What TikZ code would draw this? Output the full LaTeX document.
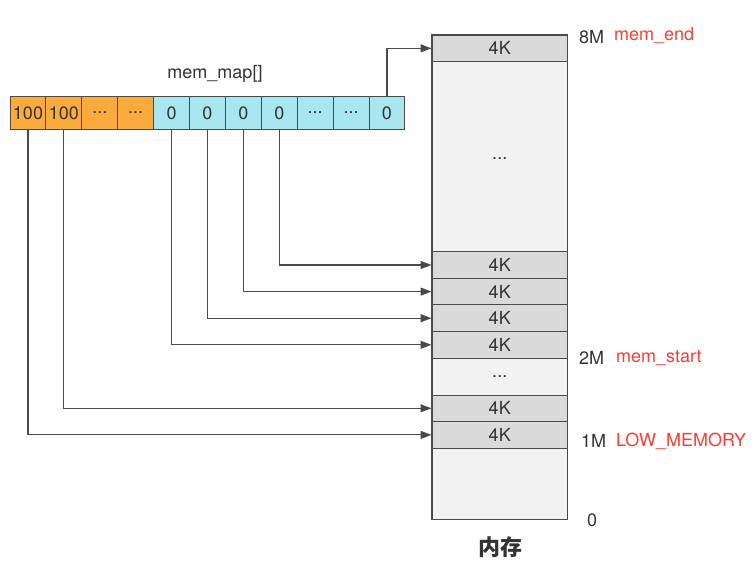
\documentclass[tikz,border=0pt]{standalone}
\usepackage{fontspec}
\setmainfont{TeX Gyre Heros}
\newfontfamily\cjk{Noto Sans CJK SC}
\usetikzlibrary{arrows.meta}
\definecolor{edge}{HTML}{4A4A4A}
\definecolor{txt}{HTML}{333333}
\definecolor{orng}{HTML}{FBAA3E}
\definecolor{cyn}{HTML}{A8E6F0}
\definecolor{cellg}{HTML}{DADADA}
\definecolor{colg}{HTML}{F2F2F2}
\definecolor{redt}{HTML}{FF3B30}
\tikzset{
  arrcell/.style={draw=edge, line width=1pt, minimum width=35.9pt, minimum height=32.5pt, inner sep=0pt, text=txt, font=\fontsize{18}{21}\selectfont},
  ocell/.style={arrcell, fill=orng},
  ccell/.style={arrcell, fill=cyn},
  memcell/.style={draw=edge, line width=1pt, fill=cellg, minimum width=135.5pt, minimum height=26.6pt, inner sep=0pt, text=txt, font=\fontsize{18}{21}\selectfont},
  lbl/.style={text=txt, inner sep=0pt, font=\fontsize{18}{21}\selectfont},
  rlbl/.style={text=redt, inner sep=0pt, font=\fontsize{18}{21}\selectfont},
  conn/.style={draw=edge, line width=1.1pt, -{Triangle[length=11pt,width=8pt]}}
}
\begin{document}
\begin{tikzpicture}[x=1pt,y=-1pt]
\useasboundingbox (0,0) rectangle (756,571);
% memory column
\draw[draw=edge, line width=1.2pt, fill=colg] (432,35) rectangle (567.5,519.3);
\node[memcell] (mtop) at (499.75,48.35) {4K};
\node[lbl] (dtop) at (499.75,159) {...};
\node[memcell] (m1) at (499.75,265.0) {4K};
\node[memcell] (m2) at (499.75,291.6) {4K};
\node[memcell] (m3) at (499.75,318.2) {4K};
\node[memcell] (m4) at (499.75,344.8) {4K};
\node[lbl] (dmid) at (499.75,377) {...};
\node[memcell] (m5) at (499.75,408.3) {4K};
\node[memcell] (m6) at (499.75,434.9) {4K};
% array
\node[ocell] (c1) at (28.0,113) {100};
\node[ocell] (c2) at (63.9,113) {100};
\node[ocell] (c3) at (99.8,113) {...};
\node[ocell] (c4) at (135.7,113) {...};
\node[ccell] (c5) at (171.6,113) {0};
\node[ccell] (c6) at (207.5,113) {0};
\node[ccell] (c7) at (243.4,113) {0};
\node[ccell] (c8) at (279.3,113) {0};
\node[ccell] (c9) at (315.2,113) {...};
\node[ccell] (c10) at (351.1,113) {...};
\node[ccell] (c11) at (387.0,113) {0};
\node[lbl] (title) at (215,74) {mem\_map[]};
% connectors
\draw[conn] (c11.north) |- (mtop.west);
\draw[conn] (c8.south) |- (m1.west);
\draw[conn] (c7.south) |- (m2.west);
\draw[conn] (c6.south) |- (m3.west);
\draw[conn] (c5.south) |- (m4.west);
\draw[conn] (c2.south) |- (m5.west);
\draw[conn] (c1.south) |- (m6.west);
% labels
\node[lbl, anchor=west] (l8) at (579,37) {8M};
\node[rlbl, anchor=west] (le) at (614,36) {mem\_end};
\node[lbl, anchor=west] (l2) at (579,358) {2M};
\node[rlbl, anchor=west] (ls) at (616,358) {mem\_start};
\node[lbl, anchor=west] (l1) at (581,441) {1M};
\node[rlbl, anchor=west] (ll) at (616,441) {LOW\_MEMORY};
\node[lbl] (l0) at (592,520) {0};
\node[text=txt, inner sep=0pt, font=\cjk\bfseries\fontsize{22}{26}\selectfont] (mem) at (500,547) {内存};
\end{tikzpicture}
\end{document}
